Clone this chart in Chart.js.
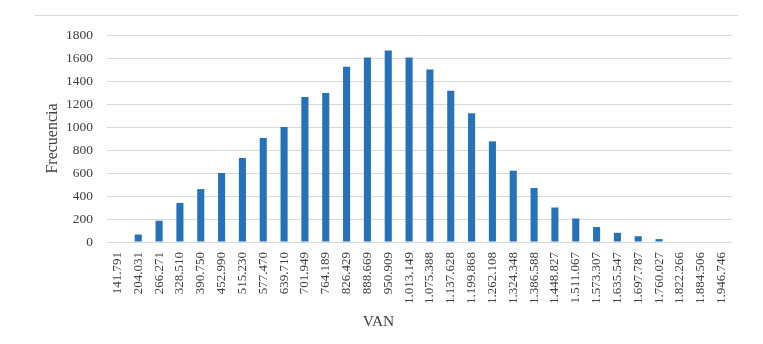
<!DOCTYPE html>
<html>
<head>
<meta charset="utf-8">
<script src="https://cdn.jsdelivr.net/npm/chart.js@4.4.0/dist/chart.umd.min.js"></script>
<style>
  html, body { margin: 0; padding: 0; background: #fff; }
  #wrap { position: relative; width: 763px; height: 344px; }
  #topline { position: absolute; left: 35px; top: 15px; width: 703px; border-top: 1px solid #d9d9d9; }
</style>
</head>
<body>
<div id="wrap">
  <div id="topline"></div>
  <canvas id="grafico" width="763" height="344"></canvas>
</div>
<script>
// Clases de VAN (etiquetas del eje X)
const clases = ["141.791", "204.031", "266.271", "328.510", "390.750", "452.990", "515.230",
  "577.470", "639.710", "701.949", "764.189", "826.429", "888.669", "950.909", "1.013.149",
  "1.075.388", "1.137.628", "1.199.868", "1.262.108", "1.324.348", "1.386.588", "1.448.827",
  "1.511.067", "1.573.307", "1.635.547", "1.697.787", "1.760.027", "1.822.266", "1.884.506",
  "1.946.746"];

// Frecuencias
const frecuencias = [0, 65, 185, 340, 460, 600, 730, 905, 1000, 1260, 1295, 1525, 1605, 1665,
  1605, 1500, 1315, 1120, 875, 620, 470, 300, 205, 130, 80, 50, 25, 0, 0, 0];

const ticksY = [0, 200, 400, 600, 800, 1000, 1200, 1400, 1600, 1800];

const fuente = "'Liberation Serif', 'Times New Roman', serif";
const gris = "#404040";

// Titulo del eje X, centrado en el grafico completo (como en Excel)
const tituloX = {
    id: "tituloX",
    afterDraw: function(chart) {
        const c = chart.ctx;
        c.save();
        c.fillStyle = gris;
        c.font = "15.5px " + fuente;
        c.textAlign = "center";
        c.textBaseline = "middle";
        c.fillText("VAN", chart.width / 2 - 3, 322);
        c.restore();
    }
};

const ctx = document.getElementById("grafico").getContext("2d");
const myChart = new Chart(ctx, {
    type: "bar",
    data: {
        labels: clases,
        datasets: [{
            data: frecuencias,
            backgroundColor: "#2672BA",
            barPercentage: 0.34,
            categoryPercentage: 1.0
        }]
    },
    options: {
        responsive: false,
        animation: false,
        layout: { padding: { left: 45, right: 31, top: 35, bottom: 38 } },
        plugins: {
            legend: { display: false },
            tooltip: { enabled: false }
        },
        scales: {
            x: {
                grid: { display: false },
                border: { display: false },
                ticks: {
                    minRotation: 90,
                    maxRotation: 90,
                    autoSkip: false,
                    color: gris,
                    font: { family: fuente, size: 13 },
                    padding: 2
                }
            },
            y: {
                min: 0,
                max: 1800,
                afterBuildTicks: function(axis) {
                    axis.ticks = ticksY.map(function(v) { return { value: v }; });
                },
                afterFit: function(axis) {
                    axis.width = 62;
                },
                grid: { color: "#d9d9d9", lineWidth: 1, drawTicks: false },
                border: { display: false },
                ticks: {
                    color: gris,
                    font: { family: fuente, size: 13.5 },
                    padding: 14,
                    callback: function(v) { return String(v); }
                },
                title: {
                    display: true,
                    text: "Frecuencia",
                    color: gris,
                    font: { family: fuente, size: 16, lineHeight: 1 },
                    padding: { top: 0, bottom: 0 }
                }
            }
        }
    },
    plugins: [tituloX]
});
</script>
</body>
</html>
